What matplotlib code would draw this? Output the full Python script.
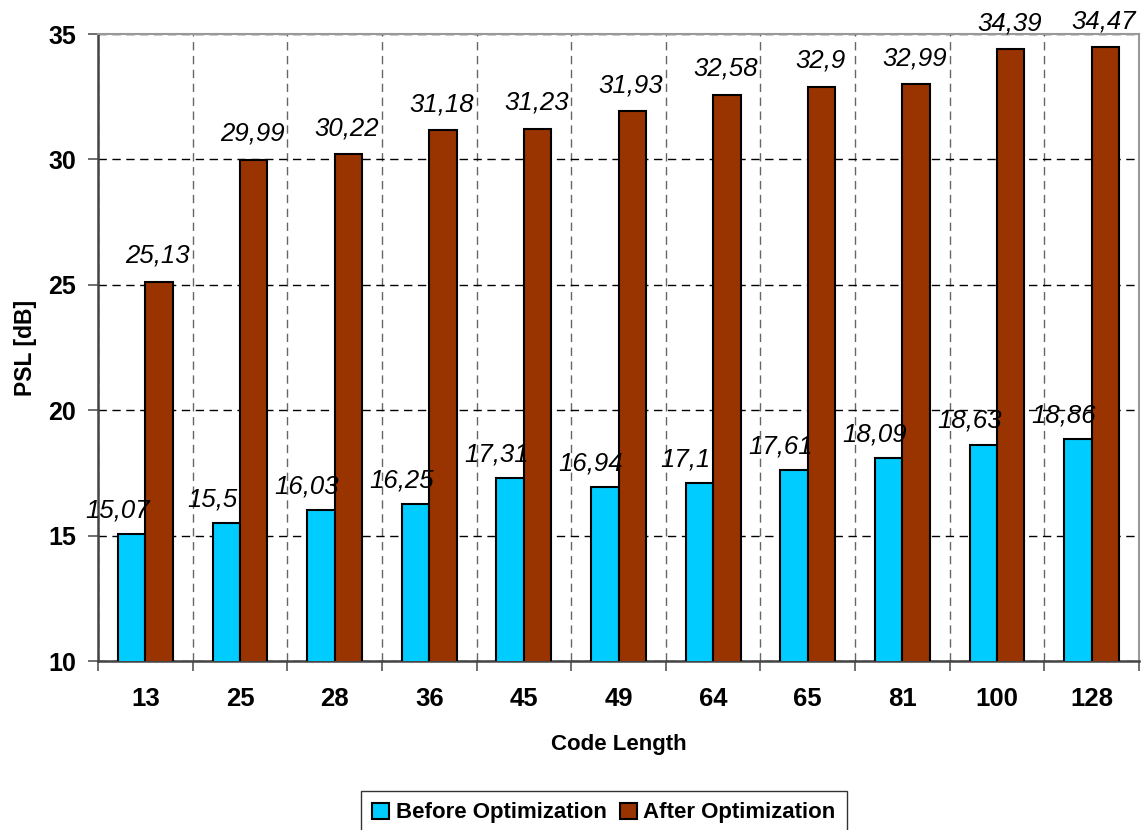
import matplotlib
matplotlib.use("Agg")
import matplotlib.pyplot as plt
import numpy as np

plt.rcParams['font.family'] = ['Liberation Sans', 'DejaVu Sans']

# data
code_lengths = ['13', '25', '28', '36', '45', '49', '64', '65', '81', '100', '128']
before = [15.07, 15.5, 16.03, 16.25, 17.31, 16.94, 17.1, 17.61, 18.09, 18.63, 18.86]
after = [25.13, 29.99, 30.22, 31.18, 31.23, 31.93, 32.58, 32.9, 32.99, 34.39, 34.47]

fig = plt.figure(figsize=(11.44, 8.3), dpi=100)
ax = fig.add_axes([0.0857, 0.2036, 0.9099, 0.7554])

x = np.arange(len(code_lengths))
w = 0.29
b1 = ax.bar(x - w / 2, before, w, bottom=0, color='#00CCFF', edgecolor='black',
            linewidth=1.5, label='Before Optimization', zorder=3)
b2 = ax.bar(x + w / 2, after, w, bottom=0, color='#993300', edgecolor='black',
            linewidth=1.5, label='After Optimization', zorder=3)

ax.set_ylim(10, 35)
ax.set_xlim(-0.5, len(code_lengths) - 0.5)

# value labels
for xi, v in zip(x, before):
    ax.annotate(str(v).replace('.', ','), (xi - w / 2, v), xytext=(-10, 12),
                textcoords='offset points', ha='center', va='baseline',
                fontsize=18.5, fontstyle='italic', zorder=4)
for xi, v in zip(x, after):
    ax.annotate(str(v).replace('.', ','), (xi + w / 2, v), xytext=(-1, 13.5),
                textcoords='offset points', ha='center', va='baseline',
                fontsize=18.5, fontstyle='italic', zorder=4)

# ticks
ax.set_yticks([10, 15, 20, 25, 30, 35])
ax.set_xticks(x)
ax.set_xticklabels(code_lengths)
ax.set_xticks(np.arange(-0.5, len(code_lengths)), minor=True)
ax.tick_params(axis='x', which='major', length=0, pad=19, labelsize=18.5)
ax.tick_params(axis='x', which='minor', length=7, width=1.2, color='#555555')
ax.tick_params(axis='y', which='major', length=7, width=1.2, color='#555555',
               pad=9, labelsize=18)
for lab in ax.get_xticklabels() + ax.get_yticklabels():
    lab.set_fontweight('bold')

# grid
ax.yaxis.grid(True, linestyle=(0, (6, 4)), color='black', linewidth=1, zorder=0)
ax.xaxis.grid(True, which='minor', linestyle=(0, (6, 4)), color='#666666',
              linewidth=1, zorder=0)

for side in ['left', 'bottom']:
    ax.spines[side].set_color('#444444')
    ax.spines[side].set_linewidth(1.8)
for side in ['top', 'right']:
    ax.spines[side].set_color('#999999')
    ax.spines[side].set_linewidth(1.5)

ax.set_xlabel('Code Length', fontsize=16, fontweight='bold', labelpad=16)
ax.set_ylabel('PSL [dB]', fontsize=16.5, fontweight='bold', labelpad=8)

leg = fig.legend(handles=[b1, b2], loc='upper center', bbox_to_anchor=(0.528, 0.06),
                 ncol=2, prop={'weight': 'bold', 'size': 16},
                 frameon=True, fancybox=False, edgecolor='black',
                 handlelength=0.75, handleheight=0.75, handletextpad=0.3,
                 columnspacing=0.6, borderpad=0.5)
leg.get_frame().set_linewidth(1.0)

fig.savefig('out.png', dpi=100)
